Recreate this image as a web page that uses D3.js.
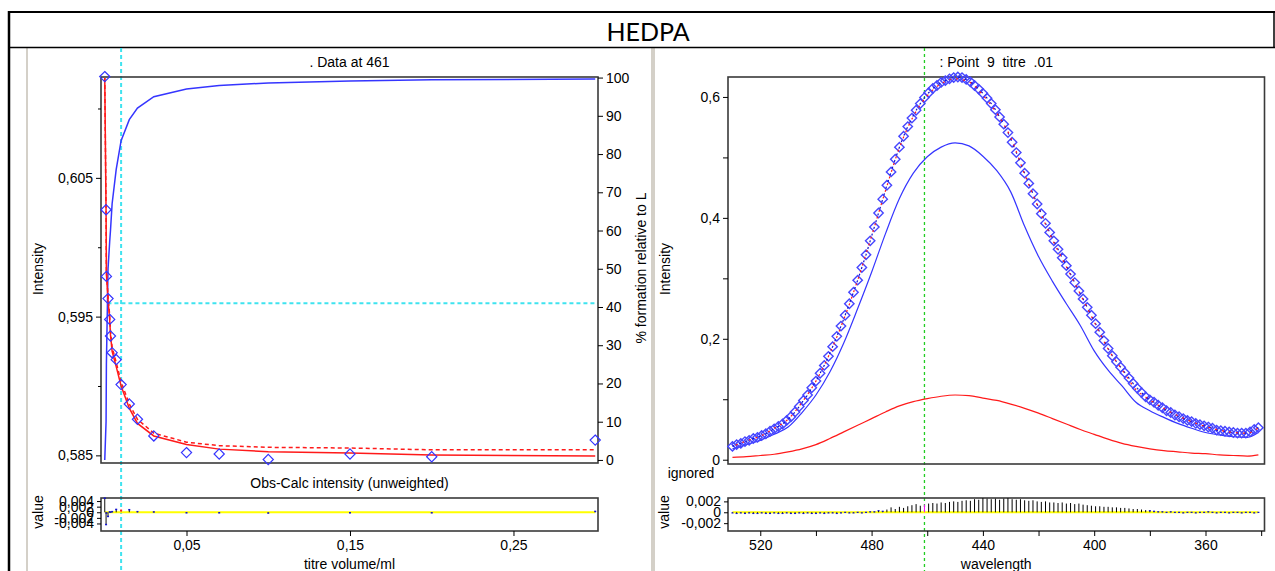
<!DOCTYPE html>
<html>
<head>
<meta charset="utf-8">
<script src="https://cdn.jsdelivr.net/npm/d3@7"></script>
<style>
  body { margin: 0; background: #fff; }
  svg { display: block; }
  text { font-family: "Liberation Sans", Arial, sans-serif; font-size: 14px; fill: #000; }
</style>
</head>
<body>
<svg id="chart" width="1275" height="571"></svg>
<script>
// ---- titration at 461 nm (left panel)
const titre = [0, 0.0008, 0.001, 0.002, 0.003, 0.0035, 0.0045, 0.007, 0.01, 0.015, 0.02, 0.03, 0.05, 0.07, 0.1, 0.15, 0.2, 0.3]
const obsIntensity = [0.6123, 0.6027, 0.5979, 0.5963, 0.5948, 0.5936, 0.5924, 0.5919, 0.5901, 0.5887, 0.5876, 0.5864, 0.5852, 0.5851, 0.5847, 0.5851, 0.5849, 0.5861]
const calcIntensity = [0.6122, 0.6026, 0.5981, 0.5962, 0.5948, 0.5937, 0.5925, 0.5914, 0.5900, 0.5884, 0.5873, 0.5864, 0.58578, 0.58545, 0.58526, 0.58517, 0.58503, 0.58496]
const calcIntensityAlt = [0.6122, 0.6025, 0.5983, 0.5965, 0.5951, 0.5940, 0.5928, 0.5917, 0.5903, 0.5887, 0.5876, 0.5866, 0.58595, 0.5857, 0.58558, 0.58553, 0.5854, 0.5854]
const formationPct = [0, 10, 25, 50, 57, 60, 67, 76, 83.5, 89, 92, 95, 97, 97.9, 98.6, 99.1, 99.4, 99.6]
const residTitre = [0.0052, -0.0043, -0.0002, -0.0014, 0.0002, 0.0001, 0.0003, 0.0011, 0.0008, 0.0010, 0.0003, 0.0002, -0.0001, -0.0001, -0.0002, -0.0001, -0.0001, 0.0004]

// ---- spectrum of point 9 (right panel)
const wavelength = [530, 528.5, 527, 525.5, 524, 522.5, 521, 519.5, 518, 516.5,
  515, 513.5, 512, 510.5, 509, 507.5, 506, 504.5, 503, 501.5,
  500, 498.5, 497, 495.5, 494, 492.5, 491, 489.5, 488, 486.5,
  485, 483.5, 482, 480.5, 479, 477.5, 476, 474.5, 473, 471.5,
  470, 468.5, 467, 465.5, 464, 462.5, 461, 459.5, 458, 456.5,
  455, 453.5, 452, 450.5, 449, 447.5, 446, 444.5, 443, 441.5,
  440, 438.5, 437, 435.5, 434, 432.5, 431, 429.5, 428, 426.5,
  425, 423.5, 422, 420.5, 419, 417.5, 416, 414.5, 413, 411.5,
  410, 408.5, 407, 405.5, 404, 402.5, 401, 399.5, 398, 396.5,
  395, 393.5, 392, 390.5, 389, 387.5, 386, 384.5, 383, 381.5,
  380, 378.5, 377, 375.5, 374, 372.5, 371, 369.5, 368, 366.5,
  365, 363.5, 362, 360.5, 359, 357.5, 356, 354.5, 353, 351.5,
  350, 348.5, 347, 345.5, 344, 342.5, 341]
const obsSpectrum = [0.022, 0.025, 0.027, 0.030, 0.032, 0.035, 0.037, 0.040, 0.043, 0.047,
  0.051, 0.055, 0.059, 0.065, 0.071, 0.079, 0.088, 0.098, 0.107, 0.119,
  0.130, 0.143, 0.156, 0.171, 0.187, 0.204, 0.221, 0.239, 0.258, 0.277,
  0.297, 0.318, 0.339, 0.362, 0.385, 0.408, 0.431, 0.454, 0.476, 0.497,
  0.517, 0.535, 0.551, 0.565, 0.578, 0.589, 0.599, 0.607, 0.614, 0.619,
  0.624, 0.627, 0.630, 0.632, 0.633, 0.632, 0.629, 0.625, 0.619, 0.613,
  0.606, 0.598, 0.589, 0.579, 0.567, 0.555, 0.541, 0.525, 0.508, 0.491,
  0.474, 0.457, 0.440, 0.423, 0.407, 0.391, 0.376, 0.362, 0.348, 0.334,
  0.321, 0.307, 0.293, 0.279, 0.266, 0.252, 0.239, 0.225, 0.211, 0.197,
  0.184, 0.172, 0.162, 0.153, 0.144, 0.135, 0.126, 0.118, 0.111, 0.104,
  0.099, 0.095, 0.090, 0.086, 0.081, 0.078, 0.074, 0.071, 0.068, 0.065,
  0.063, 0.060, 0.058, 0.056, 0.054, 0.052, 0.049, 0.048, 0.047, 0.046,
  0.045, 0.044, 0.044, 0.044, 0.046, 0.050, 0.053]
const residSpectrum = [-0.0001, -0.0002, -0.0001, -0.0002, -0.0001, -0.0002, -0.0002, -0.0001, -0.0002, -0.0002,
  -0.0001, -0.0002, -0.0002, -0.0001, -0.0002, -0.0002, -0.0001, -0.0002, -0.0001, -0.0002,
  -0.0002, -0.0001, -0.0002, -0.0001, -0.0001, -0.0002, -0.0001, 0, -0.0001, -0.0001,
  0, -0.0001, 0, 0.0001, 0.0001, 0.0003, 0.0002, 0.0005, 0.0009, 0.0006,
  0.0010, 0.0008, 0.0011, 0.0013, 0.0015, 0.0012, 0.0014, 0.0016, 0.0017, 0.0016,
  0.0018, 0.0017, 0.0019, 0.0020, 0.0019, 0.0021, 0.0022, 0.0021, 0.0024, 0.0023,
  0.0026, 0.0025, 0.0024, 0.0025, 0.0023, 0.0025, 0.0026, 0.0024, 0.0023, 0.0024,
  0.0022, 0.0021, 0.0022, 0.0020, 0.0019, 0.0020, 0.0018, 0.0018, 0.0017, 0.0018,
  0.0016, 0.0017, 0.0015, 0.0016, 0.0014, 0.0013, 0.0012, 0.0011, 0.0011, 0.0010,
  0.0010, 0.0009, 0.0009, 0.0008, 0.0008, 0.0007, 0.0006, 0.0006, 0.0005, 0.0004,
  0.0003, 0.0002, 0.0001, 0.0001, 0, 0.0001, 0, 0, -0.0001, 0,
  0, -0.0001, 0, 0, 0.0001, 0, -0.0001, 0, 0, -0.0001,
  0, 0, -0.0001, 0, 0, -0.0001, 0]

// fitted curves on a coarser grid
const calcWl = [530, 525, 520, 515, 510, 505, 500, 495, 490, 485, 480, 475, 470, 465, 460, 455, 450, 445, 440, 435,
  430, 425, 420, 415, 410, 405, 400, 395, 390, 385, 380, 375, 370, 365, 360, 355, 350, 345, 341]
const calcSpectrum = [0.022, 0.031, 0.039, 0.052, 0.067, 0.095, 0.130, 0.176, 0.232, 0.297, 0.370, 0.445, 0.516, 0.568, 0.602, 0.622, 0.630, 0.625, 0.603, 0.573,
  0.533, 0.472, 0.416, 0.364, 0.319, 0.274, 0.228, 0.183, 0.149, 0.116, 0.099, 0.085, 0.073, 0.063, 0.055, 0.049, 0.045, 0.044, 0.053]
const speciesML = [0.018, 0.025, 0.032, 0.042, 0.054, 0.078, 0.107, 0.145, 0.193, 0.250, 0.310, 0.374, 0.432, 0.474, 0.501, 0.517, 0.524, 0.519, 0.502, 0.478,
  0.443, 0.386, 0.336, 0.295, 0.258, 0.222, 0.180, 0.148, 0.122, 0.095, 0.081, 0.070, 0.060, 0.052, 0.045, 0.041, 0.038, 0.037, 0.045]
const speciesL = [0.004, 0.005, 0.007, 0.009, 0.013, 0.018, 0.025, 0.035, 0.046, 0.057, 0.068, 0.079, 0.089, 0.096, 0.101, 0.105, 0.107, 0.106, 0.102, 0.098,
  0.092, 0.085, 0.077, 0.068, 0.059, 0.050, 0.042, 0.034, 0.027, 0.022, 0.018, 0.015, 0.013, 0.011, 0.010, 0.008, 0.007, 0.006, 0.008]

const selectedIndex = 8        // "Point 9"
const selectedTitre = 0.01
const selectedWl = 461
const crossPct = 41

// ticks
const intensityTicks = [0.585, 0.595, 0.605]
const intensityMinor = [0.59, 0.60, 0.61]
const pctTicks = [0, 10, 20, 30, 40, 50, 60, 70, 80, 90, 100]
const titreTicks = [0.05, 0.15, 0.25]
const residLeftTicks = [-0.004, -0.002, 0, 0.002, 0.004]
const specTicks = [0, 0.1, 0.2, 0.3, 0.4, 0.5, 0.6]
const specLabelled = [0, 0.2, 0.4, 0.6]
const wlTicks = [520, 500, 480, 460, 440, 420, 400, 380, 360, 340]
const wlLabelled = [520, 480, 440, 400, 360]
const residRightTicks = [-0.002, 0, 0.002]

const loc = d3.formatLocale({decimal: ",", thousands: ".", grouping: [3], currency: ["", ""], minus: "-"})
const num = p => v => (Math.abs(v) < 1e-12 ? "0" : loc.format("." + p + "f")(v))

const svg = d3.select("#chart")
const BLUE = "#3535ff", DARKBLUE = "#1010d0", RED = "#ff1a1a", CYAN = "#3fe3ef", GREEN = "#22cc22"

// frame
svg.append("rect").attr("x", 26).attr("y", 48).attr("width", 2).attr("height", 523).attr("fill", "#d4d0c8")
svg.append("rect").attr("x", 651).attr("y", 48).attr("width", 4).attr("height", 523).attr("fill", "#d4d0c8")
svg.append("line").attr("x1", 8).attr("x2", 1275).attr("y1", 12).attr("y2", 12).attr("stroke", "#000").attr("stroke-width", 2)
svg.append("line").attr("x1", 8).attr("x2", 1275).attr("y1", 47.5).attr("y2", 47.5).attr("stroke", "#000").attr("stroke-width", 1.5)
svg.append("line").attr("x1", 9).attr("x2", 9).attr("y1", 11).attr("y2", 571).attr("stroke", "#000").attr("stroke-width", 2.5)
svg.append("line").attr("x1", 1274).attr("x2", 1274).attr("y1", 11).attr("y2", 48).attr("stroke", "#000").attr("stroke-width", 1.5)
svg.append("text").attr("x", 648).attr("y", 41).attr("text-anchor", "middle")
  .style("font-family", "Lato, 'Open Sans', sans-serif").style("font-size", "25px").text("HEDPA")

const diamond = { draw(ctx, size) { const r = Math.sqrt(size / 2); ctx.moveTo(0, -r); ctx.lineTo(r, 0); ctx.lineTo(0, r); ctx.lineTo(-r, 0); ctx.closePath() } }

function styleAxis(g) {
  g.select(".domain").remove()
  g.selectAll(".tick line").attr("stroke", "#000")
  return g
}
function box(x0, x1, y0, y1) {
  svg.append("rect").attr("x", x0).attr("y", y0).attr("width", x1 - x0).attr("height", y1 - y0)
    .attr("fill", "none").attr("stroke", "#3a3a3a").attr("stroke-width", 1.6)
}
function vlabel(x, y, s) {
  svg.append("text").attr("transform", `translate(${x},${y}) rotate(-90)`).attr("text-anchor", "middle")
    .attr("dominant-baseline", "central").text(s)
}

// ================= LEFT PANEL =================
const L = { x0: 101, x1: 598, y0: 77, y1: 463, r0: 498, r1: 531 }
const xT = d3.scaleLinear().domain([-0.0023, 0.3017]).range([L.x0, L.x1])
const yI = d3.scaleLinear().domain([0.58445, 0.61227]).range([L.y1, L.y0])
const yP = d3.scaleLinear().domain([-0.8, 100.15]).range([L.y1, L.y0])
const yRL = d3.scaleLinear().domain([-0.00669, 0.00509]).range([L.r1, L.r0]).clamp(true)

svg.append("text").attr("x", (L.x0 + L.x1) / 2).attr("y", 67).attr("text-anchor", "middle").text(". Data at 461")
svg.append("text").attr("x", (L.x0 + L.x1) / 2).attr("y", 488).attr("text-anchor", "middle").text("Obs-Calc intensity (unweighted)")
svg.append("text").attr("x", (L.x0 + L.x1) / 2).attr("y", 569).attr("text-anchor", "middle").text("titre volume/ml")
vlabel(38, 269, "Intensity")
vlabel(641, 268, "% formation relative to L")
vlabel(38, 512, "value")

// crosshair
svg.append("line").attr("x1", xT(selectedTitre)).attr("x2", xT(selectedTitre)).attr("y1", 48).attr("y2", 571)
  .attr("stroke", CYAN).attr("stroke-width", 2).attr("stroke-dasharray", "4,3")
let crossT = titre[0]
for (let i = 1; i < titre.length; i++) {
  if (formationPct[i] >= crossPct) {
    const t = (crossPct - formationPct[i - 1]) / (formationPct[i] - formationPct[i - 1])
    crossT = titre[i - 1] + t * (titre[i] - titre[i - 1])
    break
  }
}
svg.append("line").attr("x1", xT(crossT)).attr("x2", L.x1).attr("y1", yP(crossPct)).attr("y2", yP(crossPct))
  .attr("stroke", CYAN).attr("stroke-width", 2).attr("stroke-dasharray", "4,3")

box(L.x0, L.x1, L.y0, L.y1)
box(L.x0, L.x1, L.r0, L.r1)

styleAxis(svg.append("g").attr("transform", `translate(${L.x0},0)`)
  .call(d3.axisLeft(yI).tickValues(intensityTicks).tickFormat(num(3)).tickSize(5).tickPadding(3)))
styleAxis(svg.append("g").attr("transform", `translate(${L.x0},0)`)
  .call(d3.axisLeft(yI).tickValues(intensityMinor).tickFormat("").tickSize(3)))
styleAxis(svg.append("g").attr("transform", `translate(${L.x1},0)`)
  .call(d3.axisRight(yP).tickValues(pctTicks).tickFormat(d3.format("d")).tickSize(5).tickPadding(3)))
styleAxis(svg.append("g").attr("transform", `translate(0,${L.r1})`)
  .call(d3.axisBottom(xT).tickValues(titreTicks).tickFormat(num(2)).tickSize(5).tickPadding(4)))
styleAxis(svg.append("g").attr("transform", `translate(${L.x0},0)`)
  .call(d3.axisLeft(yRL).tickValues(residLeftTicks).tickFormat(num(3)).tickSize(4).tickPadding(3)))

const leftPts = titre.map((t, i) => ({ t, obs: obsIntensity[i], calc: calcIntensity[i], alt: calcIntensityAlt[i], pct: formationPct[i], res: residTitre[i], i }))

svg.append("path").datum(leftPts).attr("fill", "none").attr("stroke", BLUE).attr("stroke-width", 1.5)
  .attr("d", d3.line().x(d => xT(d.t)).y(d => yP(d.pct)))
svg.append("path").datum(leftPts).attr("fill", "none").attr("stroke", RED).attr("stroke-width", 1.5)
  .attr("d", d3.line().x(d => xT(d.t)).y(d => yI(d.calc)))
svg.append("path").datum(leftPts).attr("fill", "none").attr("stroke", RED).attr("stroke-width", 1.5)
  .attr("stroke-dasharray", "4,3").attr("d", d3.line().x(d => xT(d.t)).y(d => yI(d.alt)))
svg.append("g").selectAll("path").data(leftPts).join("path")
  .attr("transform", d => `translate(${xT(d.t)},${yI(d.obs)})`)
  .attr("d", d3.symbol(diamond, 52)).attr("fill", "none").attr("stroke", BLUE).attr("stroke-width", 1.2)

// residuals
svg.append("line").attr("x1", xT(titre[0])).attr("x2", xT(titre[titre.length - 1])).attr("y1", yRL(0)).attr("y2", yRL(0))
  .attr("stroke", "#ffff00").attr("stroke-width", 2)
const rl = svg.append("g").selectAll("g").data(leftPts).join("g")
rl.append("line").attr("x1", d => xT(d.t)).attr("x2", d => xT(d.t)).attr("y1", yRL(0)).attr("y2", d => yRL(d.res))
  .attr("stroke", d => d.i === selectedIndex ? RED : "#101010").attr("stroke-width", 1)
rl.append("rect").attr("x", d => xT(d.t) - 1).attr("y", d => yRL(d.res) - 0.5).attr("width", 2).attr("height", 1.5)
  .attr("fill", d => d.i === selectedIndex ? RED : DARKBLUE)

// ================= RIGHT PANEL =================
const R = { x0: 728, x1: 1264.5, y0: 77, y1: 464, r0: 498, r1: 531 }
const xW = d3.scaleLinear().domain([531.6, 338.8]).range([R.x0, R.x1])
const yS = d3.scaleLinear().domain([-0.0071, 0.633]).range([R.y1, R.y0])
const yRR = d3.scaleLinear().domain([-0.00344, 0.00262]).range([R.r1, R.r0]).clamp(true)

const cx = (R.x0 + R.x1) / 2
svg.append("text").attr("x", cx).attr("y", 67).attr("text-anchor", "middle").style("white-space", "pre")
  .text(": Point  " + (selectedIndex + 1) + "  titre  .01")
svg.append("text").attr("x", 691).attr("y", 478).attr("text-anchor", "middle").text("ignored")
svg.append("text").attr("x", cx).attr("y", 569).attr("text-anchor", "middle").text("wavelength")
vlabel(665, 269, "Intensity")
vlabel(664, 512, "value")

svg.append("line").attr("x1", xW(selectedWl)).attr("x2", xW(selectedWl)).attr("y1", 48).attr("y2", 571)
  .attr("stroke", GREEN).attr("stroke-width", 1.3).attr("stroke-dasharray", "3,3")

box(R.x0, R.x1, R.y0, R.y1)
box(R.x0, R.x1, R.r0, R.r1)

styleAxis(svg.append("g").attr("transform", `translate(${R.x0},0)`)
  .call(d3.axisLeft(yS).tickValues(specTicks).tickFormat(v => specLabelled.some(s => Math.abs(s - v) < 1e-9) ? num(1)(v) : "").tickSize(5).tickPadding(3)))
styleAxis(svg.append("g").attr("transform", `translate(0,${R.r1})`)
  .call(d3.axisBottom(xW).tickValues(wlTicks).tickFormat(v => wlLabelled.includes(v) ? String(v) : "").tickSize(5).tickPadding(4)))
styleAxis(svg.append("g").attr("transform", `translate(${R.x0},0)`)
  .call(d3.axisLeft(yRR).tickValues(residRightTicks).tickFormat(num(3)).tickSize(4).tickPadding(3)))

const curvePts = calcWl.map((w, i) => ({ w, calc: calcSpectrum[i], ml: speciesML[i], l: speciesL[i] }))
const specPts = wavelength.map((w, i) => ({ w, obs: obsSpectrum[i], res: residSpectrum[i] }))

svg.append("path").datum(curvePts).attr("fill", "none").attr("stroke", BLUE).attr("stroke-width", 1.2)
  .attr("d", d3.line().curve(d3.curveMonotoneX).x(d => xW(d.w)).y(d => yS(d.ml)))
svg.append("path").datum(curvePts).attr("fill", "none").attr("stroke", RED).attr("stroke-width", 1.2)
  .attr("d", d3.line().curve(d3.curveMonotoneX).x(d => xW(d.w)).y(d => yS(d.l)))
svg.append("g").selectAll("path").data(specPts).join("path")
  .attr("transform", d => `translate(${xW(d.w)},${yS(d.obs)})`)
  .attr("d", d3.symbol(diamond, 44)).attr("fill", "none").attr("stroke", "#4646ff").attr("stroke-width", 1.4)
// observed points joined by a thin dark blue dotted trace, calc dashed red on top
svg.append("path").datum(specPts).attr("fill", "none").attr("stroke", DARKBLUE).attr("stroke-width", 1.2)
  .attr("stroke-dasharray", "2,5").attr("d", d3.line().x(d => xW(d.w)).y(d => yS(d.obs)))
svg.append("path").datum(curvePts).attr("fill", "none").attr("stroke", RED).attr("stroke-width", 1.2)
  .attr("stroke-dasharray", "2,5").attr("stroke-dashoffset", 3.5)
  .attr("d", d3.line().curve(d3.curveMonotoneX).x(d => xW(d.w)).y(d => yS(d.calc)))

svg.append("line").attr("x1", xW(wavelength[0])).attr("x2", xW(wavelength[wavelength.length - 1]))
  .attr("y1", yRR(0)).attr("y2", yRR(0)).attr("stroke", "#ffff00").attr("stroke-width", 2)
const rr = svg.append("g").selectAll("g").data(specPts).join("g")
rr.append("line").attr("x1", d => xW(d.w)).attr("x2", d => xW(d.w)).attr("y1", yRR(0)).attr("y2", d => yRR(d.res))
  .attr("stroke", d => d.w === selectedWl ? "#ff00ff" : "#000").attr("stroke-width", 1)
rr.filter(d => Math.abs(d.res) < 0.00035).append("rect")
  .attr("x", d => xW(d.w) - 1).attr("y", d => yRR(d.res) - 0.5).attr("width", 2).attr("height", 1.2)
  .attr("fill", DARKBLUE)
</script>
</body>
</html>
